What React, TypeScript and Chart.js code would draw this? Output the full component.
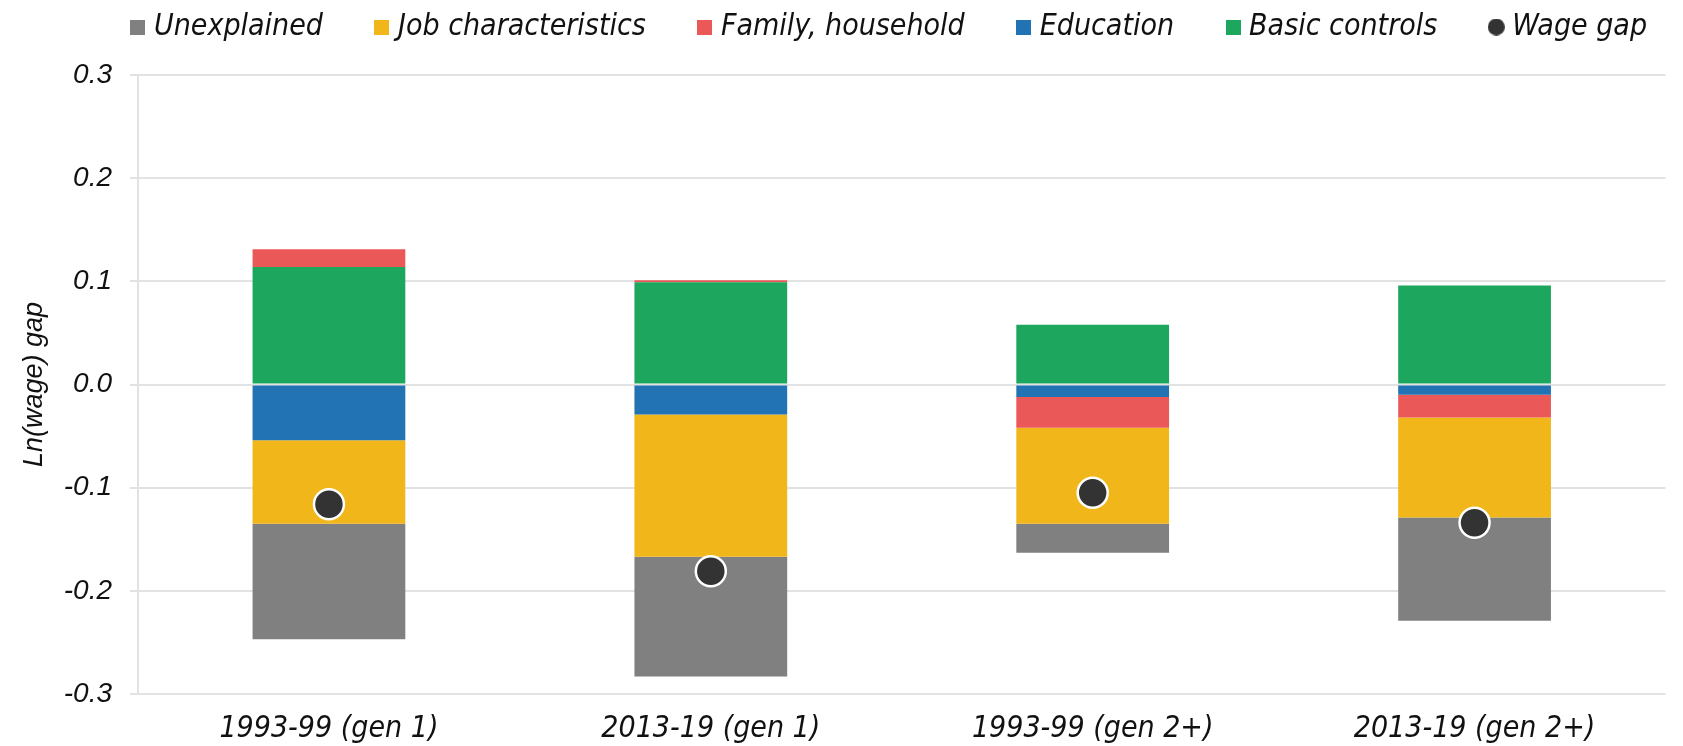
import React, { useEffect, useRef } from "react";
import { Chart, registerables } from "chart.js";

Chart.register(...registerables);

const categories = ["1993-99 (gen 1)", "2013-19 (gen 1)", "1993-99 (gen 2+)", "2013-19 (gen 2+)"];
const basicControls = [0.114, 0.099, 0.058, 0.096];
const education = [-0.054, -0.029, -0.012, -0.010];
const familyHousehold = [0.017, 0.002, -0.030, -0.022];
const jobCharacteristics = [-0.081, -0.138, -0.093, -0.097];
const unexplained = [-0.112, -0.116, -0.028, -0.100];
const wageGap = [-0.116, -0.181, -0.105, -0.134];
const yTicks = [-0.3, -0.2, -0.1, 0.0, 0.1, 0.2, 0.3];

const condFont = "'Liberation Sans Narrow', 'DejaVu Sans Condensed', Roboto, sans-serif";
const tickFont = "'Liberation Sans', Arial, sans-serif";

function swatch(color: string, circle: boolean): HTMLCanvasElement {
  const c = document.createElement("canvas");
  const s = circle ? 17 : 15;
  c.width = s;
  c.height = s;
  const g = c.getContext("2d")!;
  g.fillStyle = color;
  if (circle) {
    g.beginPath();
    g.arc(s / 2, s / 2, s / 2, 0, Math.PI * 2);
    g.fill();
  } else {
    g.fillRect(0, 0, s, s);
  }
  return c;
}

export default function App() {
  const ref = useRef<HTMLCanvasElement | null>(null);
  useEffect(() => {
    if (!ref.current) return;
    const barDs = (label: string, data: number[], color: string) => ({
      type: "bar" as const,
      label,
      data,
      backgroundColor: color,
      borderWidth: 0,
      stack: "s",
      barPercentage: 0.8,
      categoryPercentage: 0.5,
      order: 2,
    });
    const legendFix = {
      id: "legendFix",
      afterInit(chart: any) {
        const lg = chart.legend;
        if (lg && !lg._patched) {
          const orig = lg.fit;
          lg.fit = function () {
            orig.call(this);
            this.height = 75;
          };
          lg._patched = true;
        }
      },
      afterLayout(chart: any) {
        const lg = chart.legend;
        if (lg) {
          lg.left += 55;
          lg.right += 55;
          lg.top -= 46;
        }
      },
    };
    const chart = new Chart(ref.current, {
      type: "bar",
      data: {
        labels: categories,
        datasets: [
          barDs("Basic controls", basicControls, "#1da75e"),
          barDs("Education", education, "#2273b4"),
          barDs("Family, household", familyHousehold, "#eb5858"),
          barDs("Job characteristics", jobCharacteristics, "#f1b619"),
          barDs("Unexplained", unexplained, "#808080"),
          {
            type: "line" as const,
            label: "Wage gap",
            data: wageGap,
            showLine: false,
            pointStyle: "circle",
            pointRadius: 15,
            pointBorderWidth: 2.5,
            pointBackgroundColor: "#333333",
            pointBorderColor: "#ffffff",
            backgroundColor: "#333333",
            borderColor: "#333333",
            order: 1,
          } as any,
        ],
      },
      plugins: [legendFix],
      options: {
        animation: false,
        responsive: false,
        maintainAspectRatio: false,
        layout: { padding: { left: 0, right: 9, top: 0, bottom: 0 } },
        plugins: {
          tooltip: { enabled: false },
          legend: {
            position: "top",
            labels: {
              font: { family: condFont, size: 30, style: "italic" },
              color: "#111",
              usePointStyle: true,
              pointStyleWidth: 2,
              boxWidth: 2,
              boxHeight: 15,
              padding: 58,
              generateLabels: (c: any) => {
                const items = Chart.defaults.plugins.legend.labels.generateLabels(c);
                return items.map((it: any) => {
                  const ds = c.data.datasets[it.datasetIndex];
                  const isLine = it.datasetIndex === 5;
                  const col = isLine ? "#333333" : (ds.backgroundColor as string);
                  return { ...it, pointStyle: swatch(col, isLine), lineWidth: 0 };
                });
              },
              sort: (a: any, b: any) => {
                const r = (i: number) => (i === 5 ? 5 : 4 - i);
                return r(a.datasetIndex) - r(b.datasetIndex);
              },
            },
          },
        },
        scales: {
          x: {
            stacked: true,
            grid: { display: false, drawTicks: false },
            border: { display: false },
            afterFit: (s: any) => {
              s.height = 52;
            },
            ticks: {
              font: { family: condFont, size: 30, style: "italic" },
              color: "#111",
              padding: 17,
              maxRotation: 0,
            },
          },
          y: {
            stacked: true,
            min: -0.3,
            max: 0.3,
            afterBuildTicks: (s: any) => {
              s.ticks = yTicks.map((v) => ({ value: v }));
            },
            afterFit: (s: any) => {
              s.width = 138;
            },
            grid: { color: "#e2e2e2", lineWidth: 2, tickLength: 8, drawTicks: true },
            border: { display: true, color: "#e2e2e2", width: 2 },
            ticks: {
              font: { family: tickFont, size: 28, style: "italic" },
              color: "#111",
              padding: 18,
              callback: (v: any) => Number(v).toFixed(1),
            },
            title: {
              display: true,
              text: "Ln(wage) gap",
              font: { family: tickFont, size: 27, style: "italic" },
              color: "#111",
              padding: { top: 18, bottom: 0 },
            },
          },
        },
      },
    } as any);
    return () => chart.destroy();
  }, []);
  return (
    <div style={{ position: "fixed", left: 0, top: 0, width: 1683, height: 746, background: "#fff" }}>
      <canvas ref={ref} width={1683} height={746} style={{ width: 1683, height: 746 }} />
    </div>
  );
}
